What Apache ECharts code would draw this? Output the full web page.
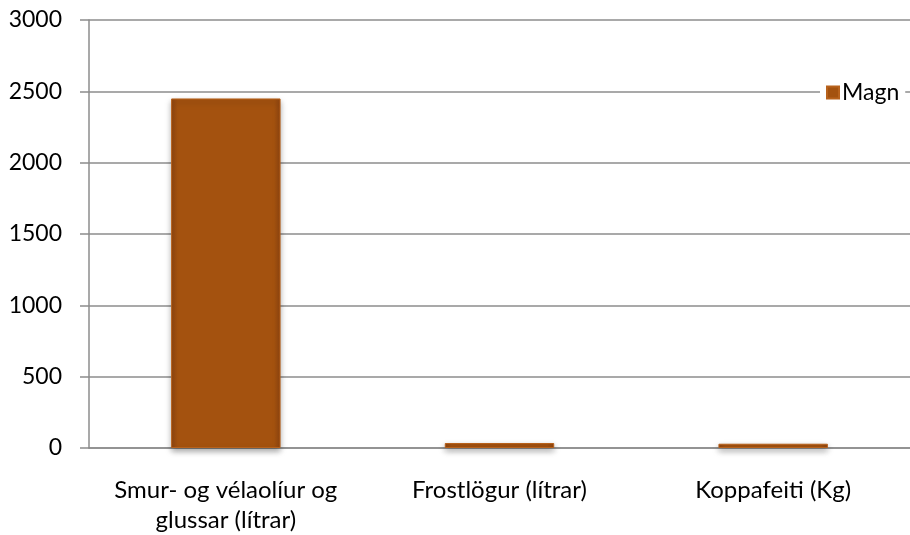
<!DOCTYPE html>
<html>
<head>
<meta charset="utf-8">
<script src="https://cdn.jsdelivr.net/npm/echarts@6/dist/echarts.min.js"></script>
<style>
  html, body { margin: 0; padding: 0; background: #fff; }
  #chart { width: 910px; height: 535px; }
</style>
</head>
<body>
<div id="chart"></div>
<script>
// gögn
const categories = ['Smur- og vélaolíur og\nglussar (lítrar)', 'Frostlögur (lítrar)', 'Koppafeiti (Kg)'];
const magn = [2450, 35, 30];
const seriesName = 'Magn';

const chart = echarts.init(document.getElementById('chart'));
const font = 'Lato, "Open Sans", sans-serif';

const option = {
    animation: false,
    textStyle: { fontFamily: font },
    grid: { left: 89, right: 0, top: 20, bottom: 87, containLabel: false, outerBoundsMode: 'none' },
    legend: {
        data: [seriesName],
        left: 820,
        top: 78,
        padding: [3, 6, 3, 6],
        backgroundColor: '#fff',
        itemWidth: 12,
        itemHeight: 12,
        itemGap: 6,
        textStyle: { fontSize: 23, color: '#000', fontFamily: font, padding: [0, 0, 0, -2] },
        icon: 'rect'
    },
    xAxis: {
        type: 'category',
        data: categories,
        axisLine: { lineStyle: { color: '#8c8c8c', width: 1.5 } },
        axisTick: { length: 8, lineStyle: { color: '#8c8c8c', width: 1.5 } },
        axisLabel: { interval: 0, fontSize: 24, color: '#000', margin: 27, lineHeight: 30, fontFamily: font }
    },
    yAxis: {
        type: 'value',
        min: 0,
        max: 3000,
        interval: 500,
        axisLine: { show: true, lineStyle: { color: '#8c8c8c', width: 1.5 } },
        axisTick: { show: true, length: 9, lineStyle: { color: '#8c8c8c', width: 1.5 } },
        splitLine: { lineStyle: { color: '#8c8c8c', width: 1.5 } },
        axisLabel: { fontSize: 23, color: '#000', margin: 27, fontFamily: font, formatter: v => String(v) }
    },
    series: [{
        name: seriesName,
        type: 'bar',
        data: magn,
        barWidth: '40%',
        itemStyle: {
            color: new echarts.graphic.LinearGradient(0, 0, 1, 0, [
                { offset: 0, color: '#8f4510' },
                { offset: 0.06, color: '#a4520f' },
                { offset: 0.94, color: '#a4520f' },
                { offset: 1, color: '#8f4510' }
            ]),
            borderColor: '#b8621c',
            borderWidth: 1,
            shadowColor: 'rgba(0,0,0,0.35)',
            shadowBlur: 6,
            shadowOffsetY: 3
        }
    }]
};
chart.setOption(option);
</script>
</body>
</html>
